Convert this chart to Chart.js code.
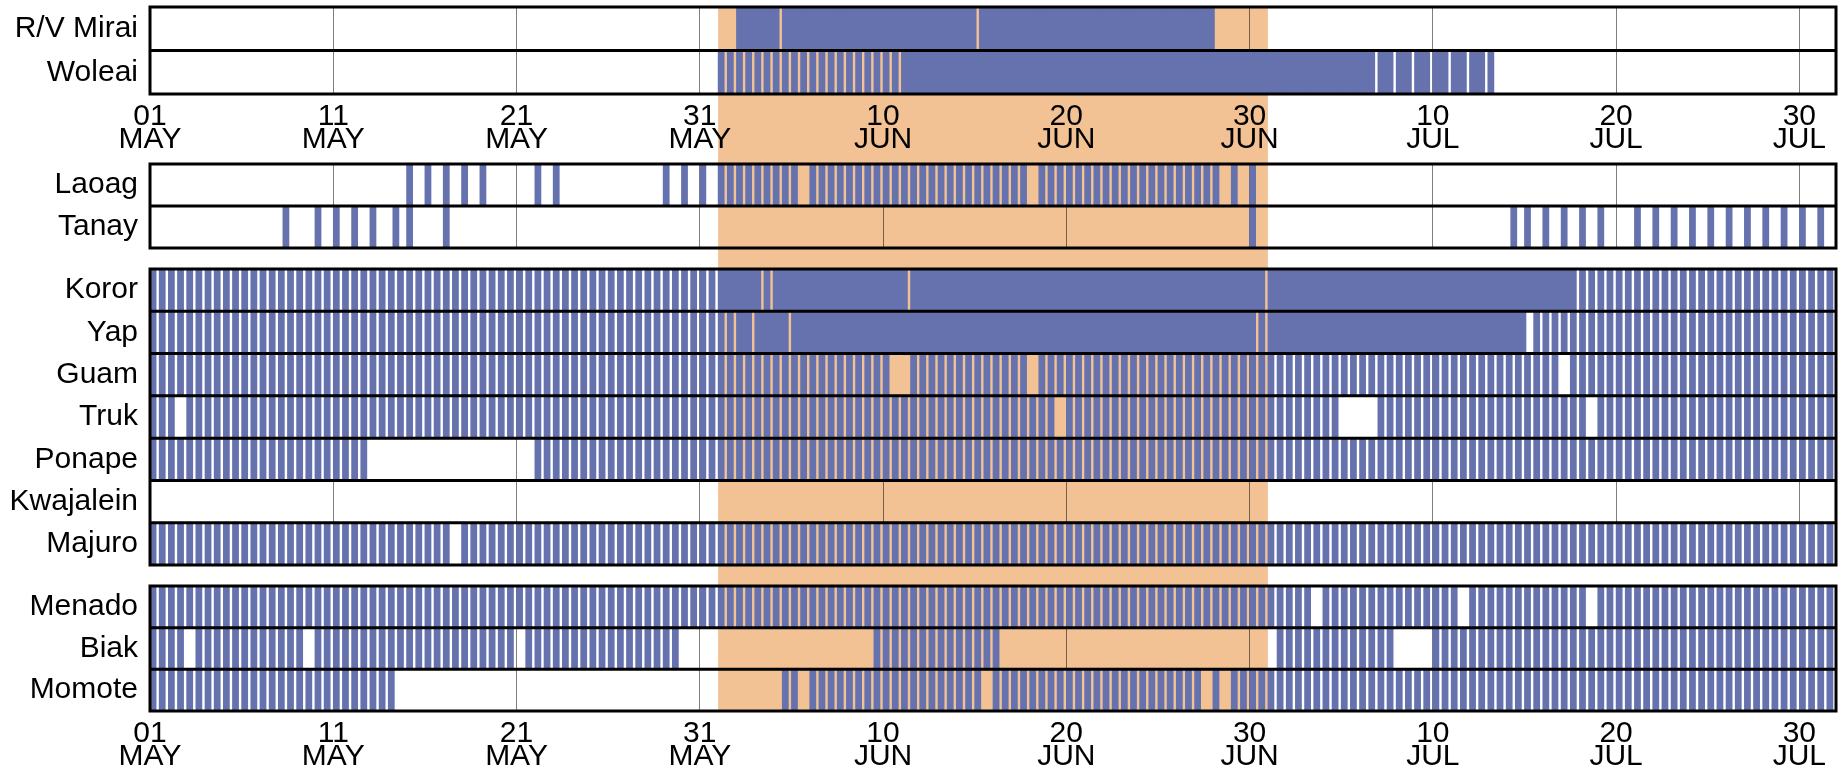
<!DOCTYPE html>
<html lang="en">
<head>
<meta charset="UTF-8">
<title>Upper-air soundings, May - July</title>
<script src="https://cdn.jsdelivr.net/npm/chart.js"></script>
<style>
  html, body { margin: 0; padding: 0; background: #fff; overflow: hidden; }
  .wrap { position: relative; width: 1841px; height: 772px; }
  .panel { position: absolute; left: 0; width: 1841px; }
</style>
</head>
<body>
<div class="wrap">
  <div class="panel" style="top:0;height:150px"><canvas id="p1"></canvas></div>
  <div class="panel" style="top:150px;height:108px"><canvas id="p2"></canvas></div>
  <div class="panel" style="top:258px;height:318px"><canvas id="p3"></canvas></div>
  <div class="panel" style="top:576px;height:196px"><canvas id="p4"></canvas></div>
</div>
<script>
// time axis is in days since 01 MAY 00Z
const dayRange = [0, 92];
const iopPeriod = [31, 61];          // 01 JUN - 01 JUL
const tickDays = [0, 10, 20, 30, 40, 50, 60, 70, 80, 90];
const tickLabels = [['01', 'MAY'], ['11', 'MAY'], ['21', 'MAY'], ['31', 'MAY'], ['10', 'JUN'],
                    ['20', 'JUN'], ['30', 'JUN'], ['10', 'JUL'], ['20', 'JUL'], ['30', 'JUL']];

const stations1 = ['R/V Mirai', 'Woleai'];
const stations2 = ['Laoag', 'Tanay'];
const stations3 = ['Koror', 'Yap', 'Guam', 'Truk', 'Ponape', 'Kwajalein', 'Majuro'];
const stations4 = ['Menado', 'Biak', 'Momote'];

// launch hours (UTC)
const H1 = [0], H2 = [0, 12], H3 = [0, 6, 12], H4 = [0, 6, 12, 18];

// runs of launches: [from day, until day, hours]; a bare number is a single launch
const mirai = [[32, 34.25, H4], [34.5, 45, H4], [45.25, 58, H4]];
const woleai = [[31, 41, H2], [41, 66, H4], [66, 73, H3], 73];
const laoag = [[14, 19, H1], 21, 22, 28, 29, 30, [31, 35.2, H2], [36, 47.7, H2], [48.4, 58.3, H2], 59, 60];
const tanay = [7.25, 9, 10, 11, 12, 13.25, 14, 16, 60, 74.25, [75, 80, H1], [81, 92, H1]];
const koror = [[0, 31, H2], [31, 33.25, H4], [33.5, 33.75, H4], [34, 41.25, H4], [41.5, 60.75, H4],
               [61, 77.75, H4], [78, 92, H2]];
const yap = [[0, 31, H2], [31, 31.25, H4], [31.5, 31.75, H4], [32, 32.75, H4], [33, 34.75, H4],
             [35, 60.25, H4], [60.5, 60.75, H4], [61, 75, H4], [75.5, 92, H2]];
const guam = [[0, 40.5, H2], [41.5, 48, H2], [48.5, 77, H2], [77.5, 92, H2]];
const truk = [[0, 1.5, H2], [2, 49.5, H2], [50, 65, H2], [67, 78.5, H2], [79, 92, H2]];
const ponape = [[0, 12, H2], [21, 92, H2]];
const kwajalein = [];
const majuro = [[0, 16.5, H2], [17, 92, H2]];
const menado = [[0, 63.5, H2], [64, 71.5, H2], [72, 78.5, H2], [79, 92, H2]];
const biak = [[0, 2, H2], [2.5, 8.5, H2], [9, 20, H2], [20.5, 28.7, H2], [39.5, 46.3, H2],
              [61.5, 68, H2], [70, 92, H2]];
const momote = [[0, 13.3, H2], [34.5, 35.3, H2], [36, 45.5, H2], [46, 57.5, H2], [58, 58.5, H2],
                [59, 92, H2]];

const launchRuns = {
  'R/V Mirai': mirai, 'Woleai': woleai, 'Laoag': laoag, 'Tanay': tanay,
  'Koror': koror, 'Yap': yap, 'Guam': guam, 'Truk': truk, 'Ponape': ponape,
  'Kwajalein': kwajalein, 'Majuro': majuro, 'Menado': menado, 'Biak': biak, 'Momote': momote
};

const BLUE = '#6572ad';
const ORANGE = '#f2c194';
const LAUNCH_WIDTH = 8 / 24;   // each launch is drawn as an 8 h block
const FONT = { family: '"Liberation Sans", Arial, sans-serif', size: 30, lineHeight: 0.77 };

function launches(runs) {
  const out = [];
  for (const r of runs) {
    if (typeof r === 'number') { out.push(r); continue; }
    const [from, to, hours] = r;
    for (let d = Math.floor(from); d < to; d++) {
      for (const h of hours) {
        const t = d + h / 24;
        if (t >= from - 1e-6 && t < to - 1e-6) out.push(t);
      }
    }
  }
  return out;
}

// shaded IOP band behind everything, black row boxes on top
const framePlugin = {
  id: 'frame',
  beforeDraw(chart, args, opts) {
    const { ctx, chartArea: a, scales: { x } } = chart;
    const x0 = x.getPixelForValue(iopPeriod[0]);
    const x1 = x.getPixelForValue(iopPeriod[1]);
    const top = opts.bandFromArea === 'top' ? a.top : 0;
    const bottom = opts.bandFromArea === 'bottom' ? a.bottom : chart.height;
    ctx.save();
    ctx.fillStyle = ORANGE;
    ctx.fillRect(x0, top, x1 - x0, bottom - top);
    ctx.restore();
  },
  afterDraw(chart) {
    const { ctx, chartArea: a, scales: { y } } = chart;
    ctx.save();
    ctx.strokeStyle = '#000';
    ctx.lineWidth = 3;
    ctx.beginPath();
    for (let i = 1; i < y.ticks.length; i++) {
      const py = (y.getPixelForValue(i - 1) + y.getPixelForValue(i)) / 2;
      ctx.moveTo(a.left, py);
      ctx.lineTo(a.right, py);
    }
    ctx.stroke();
    ctx.strokeRect(a.left, a.top, a.right - a.left, a.bottom - a.top);
    ctx.restore();
  }
};

function makePanel(id, stations, o) {
  const data = [];
  stations.forEach(s => {
    launches(launchRuns[s]).forEach(t => data.push({ x: [t, t + LAUNCH_WIDTH], y: s }));
  });
  return new Chart(document.getElementById(id), {
    type: 'bar',
    data: {
      labels: stations,
      datasets: [{
        data,
        backgroundColor: BLUE,
        borderWidth: 0,
        categoryPercentage: 1,
        barPercentage: 1
      }]
    },
    options: {
      indexAxis: 'y',
      responsive: true,
      maintainAspectRatio: false,
      animation: false,
      events: [],
      layout: { padding: { top: o.padTop, bottom: o.padBottom, left: 0, right: 5 } },
      plugins: {
        legend: { display: false },
        tooltip: { enabled: false },
        frame: { bandFromArea: o.band }
      },
      scales: {
        x: {
          type: 'linear',
          min: dayRange[0],
          max: dayRange[1],
          z: 1,
          afterBuildTicks: axis => { axis.ticks = tickDays.map(v => ({ value: v })); },
          afterFit: axis => { axis.height = o.axisHeight; },
          ticks: {
            display: o.showTicks,
            autoSkip: false,
            maxRotation: 0,
            padding: o.tickPad,
            color: '#000',
            font: FONT,
            callback: v => tickLabels[tickDays.indexOf(v)]
          },
          grid: { color: 'rgba(0,0,0,0.5)', lineWidth: 1, drawTicks: false },
          border: { display: false }
        },
        y: {
          type: 'category',
          afterFit: axis => {
            axis.width = 150;
            axis.paddingTop = 0;
            axis.paddingBottom = 0;
          },
          ticks: { color: '#000', font: FONT, padding: 12 },
          grid: { display: false, drawTicks: false },
          border: { display: false }
        }
      }
    },
    plugins: [framePlugin]
  });
}

makePanel('p1', stations1, { padTop: 7, padBottom: 0, axisHeight: 56, showTicks: true, tickPad: 11, band: 'top' });
makePanel('p2', stations2, { padTop: 14, padBottom: 10, axisHeight: 0, showTicks: false, tickPad: 0, band: 'none' });
makePanel('p3', stations3, { padTop: 11, padBottom: 11, axisHeight: 0, showTicks: false, tickPad: 0, band: 'none' });
makePanel('p4', stations4, { padTop: 10, padBottom: 0, axisHeight: 61, showTicks: true, tickPad: 11, band: 'bottom' });
</script>
</body>
</html>
